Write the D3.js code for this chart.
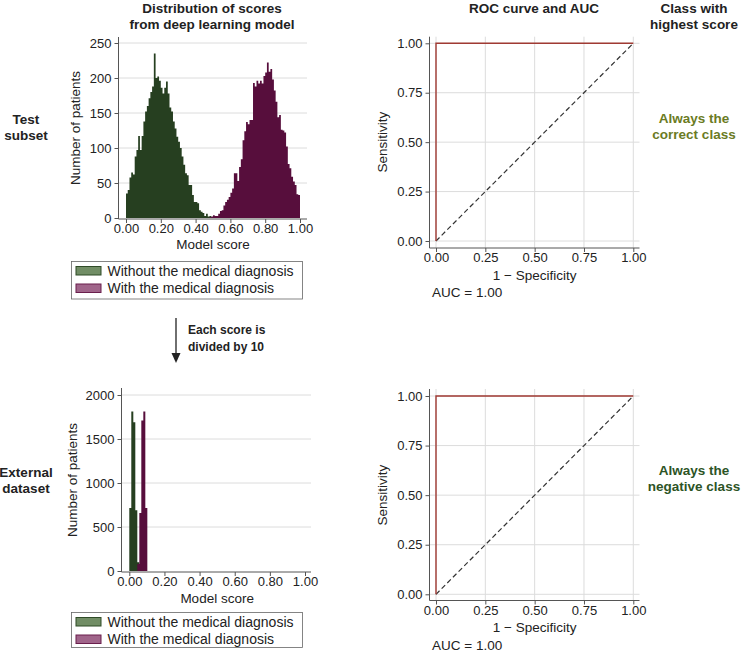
<!DOCTYPE html>
<html>
<head>
<meta charset="utf-8">
<script src="https://cdn.jsdelivr.net/npm/d3@7"></script>
<style>
  html, body { margin: 0; padding: 0; background: #fff; }
  svg { display: block; font-family: "Liberation Sans", Arial, sans-serif; }
</style>
</head>
<body>
<svg id="chart" width="741" height="652"></svg>
<script>
// ---------------- DATA ----------------
// Test subset: histogram of model scores, 100 bins of width 0.01 (bin index = floor(score*100))
const testBinWidth = 0.01;
const testWithout = [35, 40, 58, 65, 62, 88, 97, 117, 97, 117, 138, 152, 160, 171, 180, 188, 235, 200, 202, 196,
  186, 178, 186, 195, 178, 158, 152, 138, 128, 116, 109, 100, 88, 76, 64, 61, 47, 47, 33, 23,
  23, 21, 11, 9, 7, 3, 6, 2, 3, 1,
  0, 0, 0, 0, 0, 0, 0, 0, 0, 0, 0, 0, 0, 0, 0, 0, 0, 0, 0, 0, 0, 0, 0, 0, 0,
  0, 0, 0, 0, 0, 0, 0, 0, 0, 0, 0, 0, 0, 0, 0, 0, 0, 0, 0, 0, 0, 0, 0, 0, 0];
const testWith = [0, 0, 0, 0, 0, 0, 0, 0, 0, 0, 0, 0, 0, 0, 0, 0, 0, 0, 0, 0, 0, 0, 0, 0, 0,
  0, 0, 0, 0, 0, 0, 0, 0, 0, 0, 0, 0, 0, 0, 0, 0, 0, 0, 0, 0, 0, 0, 0,
  1, 2, 4, 3, 3, 6, 10, 11, 18, 23, 26, 30, 36, 42, 64, 64, 53, 73, 84, 111, 124, 137,
  134, 140, 140, 193, 188, 196, 192, 196, 192, 203, 208, 222, 209, 213, 198, 182, 166, 144, 147, 126,
  125, 122, 102, 77, 71, 59, 52, 47, 34, 33];
// External dataset: scores divided by 10, 9 bins
const extBinWidth = 0.0114;
const extWithout = [717, 1813, 1691, 690, 100, 0, 0, 0, 0];
const extWith = [0, 0, 0, 0, 80, 660, 1710, 1813, 717];

const histXTicks = [0, 0.2, 0.4, 0.6, 0.8, 1.0];
const testYTicks = [0, 50, 100, 150, 200, 250];
const extYTicks = [0, 500, 1000, 1500, 2000];
const rocTicks = [0, 0.25, 0.5, 0.75, 1.0];
// ROC curves (1 - specificity, sensitivity)
const rocTestX = [0, 0, 1];
const rocTestY = [0, 1, 1];
const rocExtX = [0, 0, 1];
const rocExtY = [0, 1, 1];
const chanceX = [0, 1];
const chanceY = [0, 1];
const aucTest = 1.00;
const aucExt = 1.00;

const seriesNames = ["Without the medical diagnosis", "With the medical diagnosis"];
const colors = {
  without: "#263f20", with: "#570e3c",
  withoutLeg: "#718d65", withoutLegStroke: "#2f4b27",
  withLeg: "#a0658a", withLegStroke: "#6a1f4d",
  roc: "#a03a33", grid: "#dcdcdc", axis: "#555", text: "#222",
  correct: "#6b7b24", negative: "#2d5426"
};

// ---------------- DRAW ----------------
const svg = d3.select("#chart");
const TICK_FS = 13, TITLE_FS = 13.5;

function styleAxis(g) {
  g.selectAll("path.domain").attr("stroke", colors.axis).attr("stroke-width", 1);
  g.selectAll(".tick line").attr("stroke", colors.axis);
  g.selectAll(".tick text").attr("fill", colors.text).attr("font-size", TICK_FS)
    .attr("font-family", "Liberation Sans, Arial, sans-serif");
}

function histogram(cfg) {
  const x = d3.scaleLinear().domain([0, 1]).range([cfg.x0, cfg.x1]);
  const y = d3.scaleLinear().domain([0, cfg.yMax]).range([cfg.y0, cfg.y1]);
  const g = svg.append("g");
  // grid
  g.selectAll("line.grid").data(cfg.yTicks.filter(d => d > 0)).enter().append("line")
    .attr("x1", cfg.axisX).attr("x2", cfg.gridRight)
    .attr("y1", d => y(d)).attr("y2", d => y(d))
    .attr("stroke", colors.grid).attr("stroke-width", 1);
  // bars: drawn as one step-area per series (no seams between adjacent bins)
  const drawBars = (vals, color) => {
    const pts = vals.map((v, i) => ({edge: i * cfg.bw, v}));
    pts.push({edge: vals.length * cfg.bw, v: vals[vals.length - 1]});
    const area = d3.area().curve(d3.curveStepAfter)
      .x(d => x(d.edge)).y0(y(0)).y1(d => y(d.v));
    g.append("path").attr("d", area(pts)).attr("fill", color).attr("stroke", "none");
  };
  drawBars(cfg.without, colors.without);
  drawBars(cfg.withV, colors.with);
  // y axis
  const ya = d3.axisLeft(y).tickValues(cfg.yTicks).tickFormat(d3.format("d")).tickSize(4).tickPadding(3).tickSizeOuter(0);
  const gy = g.append("g").attr("transform", `translate(${cfg.axisX},0)`).call(ya);
  gy.select("path.domain").remove();
  gy.append("line").attr("x1", 0).attr("x2", 0).attr("y1", cfg.axisTop).attr("y2", cfg.axisY).attr("stroke", colors.axis);
  styleAxis(gy);
  // x axis
  const xa = d3.axisBottom(x).tickValues(cfg.xTicks).tickFormat(d3.format(".2f")).tickSize(4).tickPadding(1);
  const gx = g.append("g").attr("transform", `translate(0,${cfg.axisY})`).call(xa);
  gx.select("path.domain").remove();
  gx.append("line").attr("x1", cfg.axisX).attr("x2", cfg.gridRight).attr("y1", 0).attr("y2", 0).attr("stroke", colors.axis);
  styleAxis(gx);
  // titles
  g.append("text").attr("x", (cfg.x0 + cfg.x1) / 2).attr("y", cfg.xTitleY).attr("text-anchor", "middle")
    .attr("font-size", TITLE_FS).attr("fill", colors.text).text("Model score");
  g.append("text").attr("transform", `translate(${cfg.yTitleX},${cfg.yTitleCY}) rotate(-90)`)
    .attr("text-anchor", "middle").attr("dy", "0.35em")
    .attr("font-size", TITLE_FS).attr("fill", colors.text).text("Number of patients");
  // legend
  const L = cfg.legend;
  g.append("rect").attr("x", L.x).attr("y", L.y).attr("width", L.w).attr("height", L.h)
    .attr("fill", "#fff").attr("stroke", "#666").attr("stroke-width", 0.8);
  const items = [
    {name: seriesNames[0], fill: colors.withoutLeg, stroke: colors.withoutLegStroke},
    {name: seriesNames[1], fill: colors.withLeg, stroke: colors.withLegStroke}
  ];
  items.forEach((it, i) => {
    const yy = L.y + 5 + i * 17.5;
    g.append("rect").attr("x", L.x + 4.5).attr("y", yy).attr("width", 25).attr("height", 8.5)
      .attr("fill", it.fill).attr("stroke", it.stroke).attr("stroke-width", 1);
    g.append("text").attr("x", L.x + 36).attr("y", yy + 9).attr("font-size", 14)
      .attr("fill", colors.text).text(it.name);
  });
}

function roc(cfg) {
  const x = d3.scaleLinear().domain([0, 1]).range([cfg.x0, cfg.x1]);
  const y = d3.scaleLinear().domain([0, 1]).range([cfg.y0, cfg.y1]);
  const g = svg.append("g");
  // grid
  g.selectAll("line.gh").data(rocTicks).enter().append("line")
    .attr("x1", cfg.axisX).attr("x2", cfg.right).attr("y1", d => y(d)).attr("y2", d => y(d))
    .attr("stroke", colors.grid);
  g.selectAll("line.gv").data(rocTicks).enter().append("line")
    .attr("x1", d => x(d)).attr("x2", d => x(d)).attr("y1", cfg.top).attr("y2", cfg.axisY)
    .attr("stroke", colors.grid);
  // diagonal
  const line = d3.line().x(d => x(d[0])).y(d => y(d[1]));
  g.append("path").attr("d", line(chanceX.map((v, i) => [v, chanceY[i]])))
    .attr("fill", "none").attr("stroke", "#333").attr("stroke-width", 1.2).attr("stroke-dasharray", "5,3");
  // ROC
  g.append("path").attr("d", line(cfg.rx.map((v, i) => [v, cfg.ry[i]])))
    .attr("fill", "none").attr("stroke", colors.roc).attr("stroke-width", 1.4);
  // axes
  const ya = d3.axisLeft(y).tickValues(rocTicks).tickFormat(d3.format(".2f")).tickSize(4).tickPadding(3);
  const gy = g.append("g").attr("transform", `translate(${cfg.axisX},0)`).call(ya);
  gy.select("path.domain").remove();
  gy.append("line").attr("y1", cfg.top).attr("y2", cfg.axisY).attr("stroke", colors.axis);
  styleAxis(gy);
  const xa = d3.axisBottom(x).tickValues(rocTicks).tickFormat(d3.format(".2f")).tickSize(4).tickPadding(1);
  const gx = g.append("g").attr("transform", `translate(0,${cfg.axisY})`).call(xa);
  gx.select("path.domain").remove();
  gx.append("line").attr("x1", cfg.axisX).attr("x2", cfg.right).attr("stroke", colors.axis);
  styleAxis(gx);
  g.append("text").attr("x", (cfg.x0 + cfg.x1) / 2).attr("y", cfg.xTitleY).attr("text-anchor", "middle")
    .attr("font-size", TITLE_FS).attr("fill", colors.text).text("1 \u2212 Specificity");
  g.append("text").attr("transform", `translate(${cfg.yTitleX},${(cfg.y0 + cfg.y1) / 2}) rotate(-90)`)
    .attr("text-anchor", "middle").attr("dy", "0.35em")
    .attr("font-size", TITLE_FS).attr("fill", colors.text).text("Sensitivity");
  g.append("text").attr("x", cfg.x0 - 4).attr("y", cfg.aucY)
    .attr("font-size", TITLE_FS).attr("fill", colors.text).text("AUC = " + cfg.auc.toFixed(2));
}

function boldLines(lines, cx, y0, dy, color, fs, anchor) {
  lines.forEach((t, i) => {
    svg.append("text").attr("x", cx).attr("y", y0 + i * dy).attr("text-anchor", anchor || "middle")
      .attr("font-weight", "bold").attr("font-size", fs).attr("fill", color).text(t);
  });
}

// Column headers
boldLines(["Distribution of scores", "from deep learning model"], 212, 12.5, 16.5, colors.text, TITLE_FS);
boldLines(["ROC curve and AUC"], 534, 12.5, 16.5, colors.text, TITLE_FS);
boldLines(["Class with", "highest score"], 694, 12.5, 16.5, colors.text, TITLE_FS);
// Row headers
boldLines(["Test", "subset"], 26, 123.5, 16.5, colors.text, TITLE_FS);
boldLines(["External", "dataset"], 26, 476.5, 16.5, colors.text, TITLE_FS);
// Class annotations
boldLines(["Always the", "correct class"], 694, 122.5, 16.5, colors.correct, TITLE_FS);
boldLines(["Always the", "negative class"], 694, 474.5, 16.5, colors.negative, TITLE_FS);

histogram({
  x0: 126, x1: 300, y0: 218, y1: 43, yMax: 250, bw: testBinWidth,
  without: testWithout, withV: testWith, yTicks: testYTicks, xTicks: histXTicks,
  axisX: 118.5, axisY: 219, axisTop: 37, gridRight: 307,
  xTitleY: 248.5, yTitleX: 75, yTitleCY: 128,
  legend: {x: 71.5, y: 261.5, w: 231, h: 37.5}
});
histogram({
  x0: 129.3, x1: 305, y0: 571, y1: 395, yMax: 2000, bw: extBinWidth,
  without: extWithout, withV: extWith, yTicks: extYTicks, xTicks: histXTicks,
  axisX: 121.5, axisY: 572, axisTop: 388, gridRight: 311,
  xTitleY: 602.5, yTitleX: 72, yTitleCY: 480,
  legend: {x: 71.5, y: 612.5, w: 231, h: 35}
});

roc({x0: 436, x1: 633.3, y0: 241, y1: 43.3, axisX: 429.5, axisY: 248, top: 36.7, right: 639.5,
  rx: rocTestX, ry: rocTestY, xTitleY: 279.5, yTitleX: 382, aucY: 296.5, auc: aucTest});
roc({x0: 436, x1: 633.3, y0: 594.3, y1: 396, axisX: 429.5, axisY: 600.5, top: 389, right: 639.5,
  rx: rocExtX, ry: rocExtY, xTitleY: 631.5, yTitleX: 382, aucY: 650, auc: aucExt});

// Arrow between rows
svg.append("line").attr("x1", 176).attr("x2", 176).attr("y1", 318).attr("y2", 354)
  .attr("stroke", "#222").attr("stroke-width", 1.3);
svg.append("path").attr("d", "M171.5,353 L180.5,353 L176,363 Z").attr("fill", "#222");
boldLines(["Each score is", "divided by 10"], 188, 334, 17, colors.text, 12, "start");
</script>
</body>
</html>
